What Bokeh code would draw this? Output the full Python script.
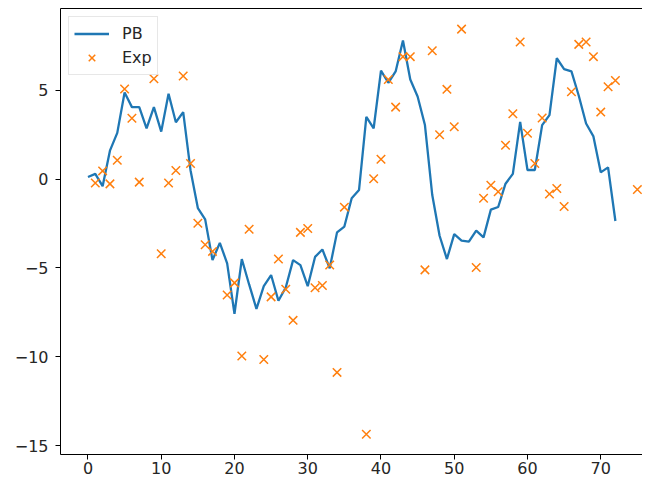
from bokeh.plotting import figure
from bokeh.models import FixedTicker, Range1d, Legend, LegendItem, LinearAxis
from bokeh.embed import file_html
from bokeh.resources import INLINE

pb_x = list(range(73))
pb_y = [0.12, 0.29, -0.40, 1.60, 2.60, 4.87, 4.05, 4.05, 2.86, 4.05,
        2.67, 4.80, 3.20, 3.77, 0.50, -1.63, -2.27, -4.56, -3.59, -4.74,
        -7.58, -4.50, -5.93, -7.30, -6.03, -5.40, -6.85, -6.10, -4.56, -4.84,
        -6.03, -4.38, -3.96, -5.02, -3.00, -2.67, -1.08, -0.62, 3.50, 2.86,
        6.10, 5.42, 6.06, 7.80, 5.60, 4.65, 3.04, -0.90, -3.19, -4.50,
        -3.10, -3.46, -3.52, -2.90, -3.28, -1.72, -1.57, -0.26, 0.29, 3.22,
        0.51, 0.51, 3.04, 3.60, 6.80, 6.19, 6.06, 4.69, 3.13, 2.40,
        0.38, 0.66, -2.36]

exp_x = [1, 2, 3, 4, 5, 6, 7, 9, 10, 11, 12, 13, 14, 15, 16, 17, 19, 20, 21, 22,
         24, 25, 26, 27, 28, 29, 30, 31, 32, 33, 34, 35, 38, 39, 40, 41, 42, 43, 44,
         46, 47, 48, 49, 50, 51, 53, 54, 55, 56, 57, 58, 59, 60, 61, 62, 63, 64, 65,
         66, 67, 68, 69, 70, 71, 72, 75]
exp_y = [-0.22, 0.46, -0.27, 1.06, 5.07, 3.42, -0.17, 5.65, -4.20, -0.22, 0.48, 5.80,
         0.88, -2.49, -3.70, -4.07, -6.52, -5.84, -9.96, -2.82,
         -10.15, -6.63, -4.50, -6.20, -7.95, -3.00, -2.78, -6.12, -5.99, -4.84, -10.88, -1.58,
         -14.36, 0.02, 1.12, 5.60, 4.05, 6.89, 6.89,
         -5.11, 7.22, 2.49, 5.05, 2.95, 8.44, -4.98, -1.08, -0.35, -0.71, 1.90, 3.68, 7.71,
         2.58, 0.88, 3.44, -0.84, -0.53, -1.54,
         4.91, 7.58, 7.71, 6.89, 3.77, 5.20, 5.55, -0.59]

x_ticks = [0, 10, 20, 30, 40, 50, 60, 70]
y_ticks = [-15, -10, -5, 0, 5]
y_labels = {t: str(t).replace("-", "\u2212") for t in y_ticks}

FONT = "DejaVu Sans"
TXT = "#262626"

p = figure(width=642, height=477, output_backend="svg", toolbar_location=None,
           x_range=Range1d(-3.75, 75.7), y_range=Range1d(-15.5, 9.6),
           min_border_left=60, min_border_right=0, min_border_top=8, min_border_bottom=23)

p.xgrid.visible = False
p.ygrid.visible = False
p.outline_line_color = None
p.background_fill_color = "white"
p.border_fill_color = "white"

for ax in (p.xaxis[0], p.yaxis[0]):
    ax.axis_line_color = "black"
    ax.axis_line_width = 1
    ax.major_tick_line_color = "black"
    ax.major_tick_in = 0
    ax.major_tick_out = 5
    ax.minor_tick_line_color = None
    ax.major_label_text_font = FONT
    ax.major_label_text_font_size = "16px"
    ax.major_label_text_color = TXT

p.xaxis[0].ticker = FixedTicker(ticks=x_ticks)
p.xaxis[0].major_label_standoff = 2
p.yaxis[0].ticker = FixedTicker(ticks=y_ticks)
p.yaxis[0].major_label_overrides = y_labels
p.yaxis[0].major_label_standoff = 7

top_axis = LinearAxis(ticker=FixedTicker(ticks=[]), axis_line_color="black",
                      major_tick_out=0, major_tick_in=0, minor_tick_out=0, minor_tick_in=0,
                      major_label_standoff=0, major_label_text_font_size="0px")
p.add_layout(top_axis, "above")

line = p.line(pb_x, pb_y, line_color="#1f77b4", line_width=2.3)
pts = p.scatter(exp_x, exp_y, marker="x", size=12, line_color="#ff7f0e", line_width=1.5)

legend = Legend(items=[LegendItem(label="PB", renderers=[line]),
                       LegendItem(label="Exp", renderers=[pts])],
                location="top_left")
legend.margin = 8
legend.padding = 5
legend.spacing = 1
legend.glyph_width = 35
legend.glyph_height = 23
legend.label_height = 18
legend.label_standoff = 13
legend.label_text_font = FONT
legend.label_text_font_size = "16px"
legend.label_text_color = TXT
legend.border_line_color = "#d0d0d0"
legend.border_line_width = 1
legend.background_fill_alpha = 0.8
p.add_layout(legend, "center")

open("out.html", "w").write(file_html(p, INLINE))
